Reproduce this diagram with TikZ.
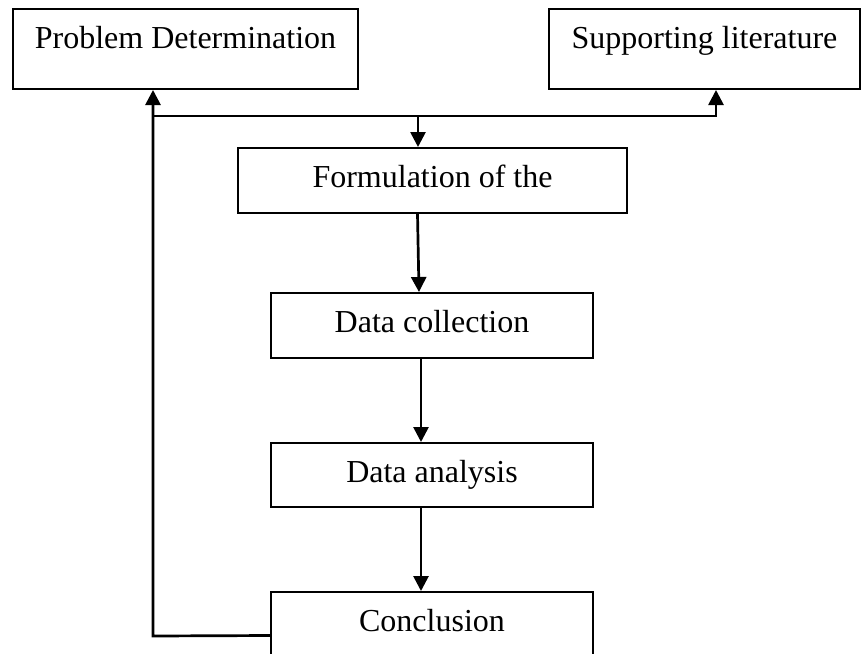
\documentclass[tikz,border=0pt]{standalone}
\usepackage{fontspec}
\setmainfont{Liberation Serif}
\usetikzlibrary{arrows.meta,positioning,calc}

\tikzset{
  stage/.style={draw, line width=2pt, anchor=north west, inner xsep=0pt, inner ysep=0pt,
                text height=39pt, font=\fontsize{32}{38}\selectfont},
  flow/.style={line width=2.7pt, -{Triangle[length=15pt,width=15pt]}},
}

\begin{document}
\begin{tikzpicture}[x=1pt,y=-1pt]
            \useasboundingbox (0,0) rectangle (861,653);

            % Top boxes
            \node[stage, minimum width=345pt, text depth=41pt] (prob) at (12,8) {Problem Determination};
            \node[stage, minimum width=311pt, text depth=41pt] (supp) at (548,8) {Supporting literature};

            % Main column
            \node[stage, minimum width=389pt, text depth=26pt] (form) at (237,147) {Formulation of the};
            \node[stage, minimum width=322pt, text depth=26pt] (coll) at (270,292) {Data collection};
            \node[stage, minimum width=322pt, text depth=25pt] (anal) at (270,442) {Data analysis};
            \node[stage, minimum width=322pt, text depth=26pt] (conc) at (270,591) {Conclusion};

            % Branch points
            \coordinate (loop) at (153,636);
            \coordinate (split) at (716,116);
            \coordinate (drop) at (418,116);

            % Feedback and split line
            \draw[flow] ([yshift=-11pt]conc.west) -- (loop) -- (loop |- prob.south);
            \draw[flow] (loop |- split) -- (split) -- (split |- supp.south);
            \draw[flow] (drop) -- (drop |- form.north);

            % Steps down
            \draw[flow] ([xshift=-15pt]form.south) -- ([xshift=-13pt]coll.north);
            \draw[flow] ([xshift=-11pt]coll.south) -- ([xshift=-11pt]anal.north);
            \draw[flow] ([xshift=-11pt]anal.south) -- ([xshift=-11pt]conc.north);
        \end{tikzpicture}
\end{document}
